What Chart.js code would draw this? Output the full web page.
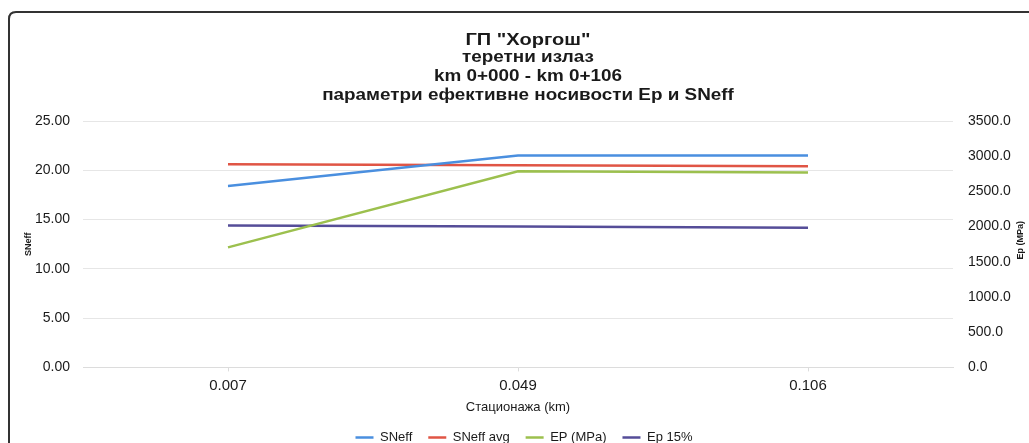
<!DOCTYPE html>
<html>
<head>
<meta charset="utf-8">
<script src="https://cdn.jsdelivr.net/npm/chart.js@4.4.1/dist/chart.umd.min.js"></script>
<style>
    html, body { margin: 0; padding: 0; background: #fff; overflow: hidden; }
    #grafico { display: block; }
</style>
</head>
<body>
<canvas id="grafico" width="1029" height="443"></canvas>
<script>
// Datos del gráfico
const stacionaze = ["0.007", "0.049", "0.106"];
const snEff = [18.4, 21.5, 21.5];
const snEffAvg = [20.6, 20.5, 20.4];
const epMpa = [1705, 2785, 2770];
const ep15 = [2015, 2000, 1985];

const naslov = ["ГП \"Хоргош\"", "теретни излаз", "km 0+000 - km 0+106", "параметри ефективне носивости Ep и SNeff"];

const fuente = "'Liberation Sans', Arial, sans-serif";
const textoOscuro = "#1a1a1a";

// Marco del gráfico (borde izquierdo y superior con esquina redondeada)
const marco = {
    id: "marco",
    afterDraw(chart) {
        const ctx = chart.ctx;
        ctx.save();
        ctx.strokeStyle = "#333";
        ctx.lineWidth = 2;
        ctx.beginPath();
        ctx.moveTo(9, chart.height + 2);
        ctx.lineTo(9, 19);
        ctx.quadraticCurveTo(9, 12, 16, 12);
        ctx.lineTo(chart.width + 2, 12);
        ctx.stroke();
        ctx.restore();
    }
};

// Título (la imagen original está algo ensanchada, se escala en horizontal)
const tituloAncho = {
    id: "tituloAncho",
    afterDraw(chart) {
        const ctx = chart.ctx;
        const centroX = 528;
        const filas = [40, 58, 77, 96];
        ctx.save();
        ctx.fillStyle = textoOscuro;
        ctx.textAlign = "center";
        ctx.textBaseline = "middle";
        naslov.forEach((linea, i) => {
            ctx.save();
            ctx.translate(centroX, filas[i]);
            ctx.scale(1.18, 1);
            ctx.font = "bold " + (i === 0 ? 17 : 16) + "px " + fuente;
            ctx.fillText(linea, 0, 0);
            ctx.restore();
        });
        ctx.restore();
    }
};

// Título del eje derecho (leído de abajo hacia arriba)
const tituloDerecho = {
    id: "tituloDerecho",
    afterDraw(chart) {
        const ctx = chart.ctx;
        const area = chart.chartArea;
        ctx.save();
        ctx.translate(1021, (area.top + area.bottom) / 2 - 4);
        ctx.rotate(-Math.PI / 2);
        ctx.font = "bold 9px " + fuente;
        ctx.fillStyle = textoOscuro;
        ctx.textAlign = "center";
        ctx.textBaseline = "middle";
        ctx.fillText("Ep (MPa)", 0, 0);
        ctx.restore();
    }
};

const ctx = document.getElementById("grafico").getContext("2d");

new Chart(ctx, {
    type: "line",
    data: {
        labels: stacionaze,
        datasets: [
            { label: "SNeff", data: snEff, yAxisID: "y", borderColor: "#4a8fdf", backgroundColor: "#4a8fdf" },
            { label: "SNeff avg", data: snEffAvg, yAxisID: "y", borderColor: "#e05545", backgroundColor: "#e05545" },
            { label: "EP (MPa)", data: epMpa, yAxisID: "y1", borderColor: "#9cc04e", backgroundColor: "#9cc04e" },
            { label: "Ep 15%", data: ep15, yAxisID: "y1", borderColor: "#554d98", backgroundColor: "#554d98" },
        ],
    },
    options: {
        responsive: false,
        animation: false,
        devicePixelRatio: 1,
        elements: {
            line: { borderWidth: 2.5, tension: 0 },
            // el grosor del punto se usa para la línea de la leyenda
            point: { radius: 0, hoverRadius: 0, borderWidth: 2.5 },
        },
        layout: { padding: { left: 19, right: 0, top: 121, bottom: -11 } },
        plugins: {
            title: { display: false },
            legend: {
                position: "bottom",
                labels: {
                    color: textoOscuro,
                    font: { family: fuente, size: 13 },
                    usePointStyle: true,
                    pointStyle: "line",
                    pointStyleWidth: 18,
                    padding: 16,
                },
            },
            tooltip: { enabled: false },
        },
        scales: {
            x: {
                offset: true,
                grid: { drawOnChartArea: false, color: "#dcdcdc", tickLength: 4 },
                border: { color: "#dcdcdc" },
                ticks: { color: textoOscuro, font: { family: fuente, size: 15 }, padding: 5 },
                title: {
                    display: true,
                    text: "Стационажа (km)",
                    color: textoOscuro,
                    font: { family: fuente, size: 13 },
                    padding: { top: 0, bottom: 0 },
                },
            },
            y: {
                position: "left",
                min: 0,
                max: 25,
                grid: { color: "#e6e6e6", drawTicks: false },
                border: { display: false },
                ticks: {
                    stepSize: 5,
                    padding: 13,
                    color: textoOscuro,
                    font: { family: fuente, size: 14 },
                    callback: v => v.toFixed(2),
                },
                title: {
                    display: true,
                    text: "SNeff",
                    color: textoOscuro,
                    font: { family: fuente, size: 9, weight: "bold" },
                    padding: { top: 4, bottom: 4 },
                },
                afterFit(scale) { scale.width = 64; },
            },
            y1: {
                position: "right",
                min: 0,
                max: 3500,
                grid: { drawOnChartArea: false, drawTicks: false },
                border: { display: false },
                ticks: {
                    stepSize: 500,
                    padding: 15,
                    color: textoOscuro,
                    font: { family: fuente, size: 14 },
                    callback: v => v.toFixed(1),
                },
                afterFit(scale) { scale.width = 76; },
            },
        },
    },
    plugins: [marco, tituloAncho, tituloDerecho],
});
</script>
</body>
</html>
